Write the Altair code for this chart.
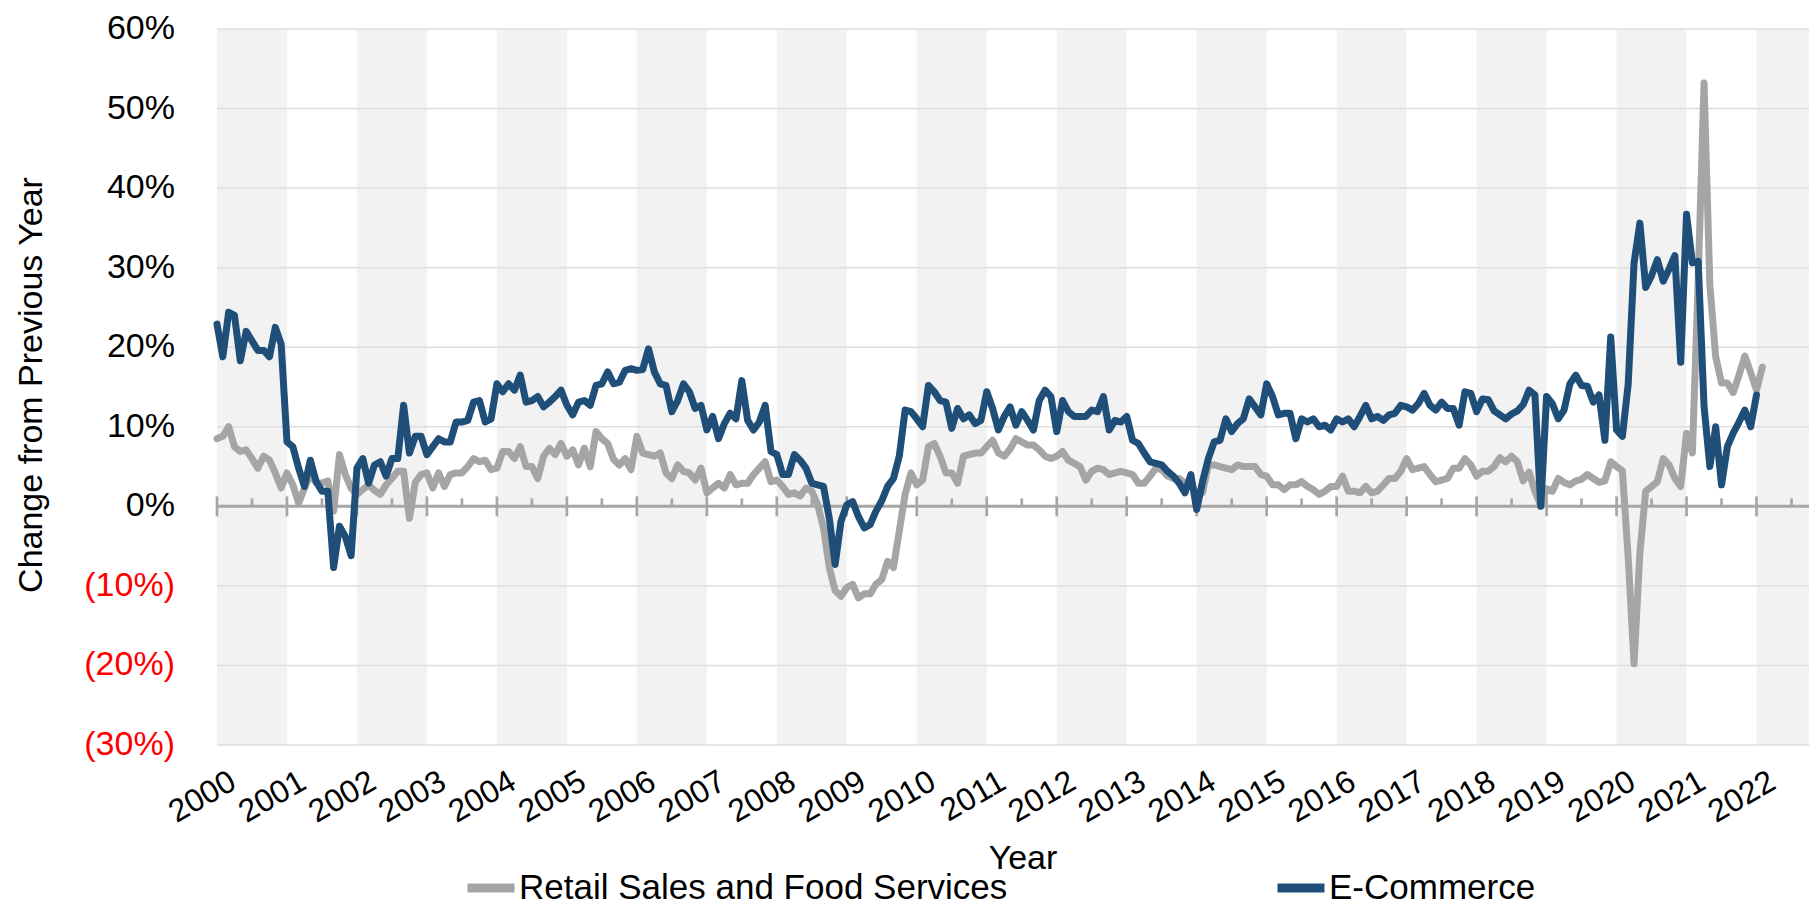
import altair as alt
import pandas as pd

# ---------------- data ----------------
SERIES = ["Retail Sales and Food Services", "E-Commerce"]
COLORS = ["#A5A5A5", "#1F4E79"]
X_TITLE = ["Year"]
Y_TITLE = ["Change from Previous Year"]

START_YEAR = 2000  # first month: Jan 2000, monthly values

RETAIL = [
    8.5, 8.8, 10.0, 7.5, 6.9, 7.1, 6.0, 4.8, 6.3, 5.8, 4.2, 2.3,            # 2000
    4.2, 2.7, 0.4, 2.3, 4.0, 3.0, 2.9, 3.2, -0.6, 6.5, 4.0, 2.3,            # 2001
    1.5, 2.1, 2.7, 2.0, 1.5, 2.7, 3.5, 4.4, 4.4, -1.5, 3.0, 4.0,            # 2002
    4.2, 2.3, 4.2, 2.5, 4.0, 4.2, 4.2, 5.0, 6.0, 5.6, 5.8, 4.6,             # 2003
    4.8, 6.9, 6.9, 6.0, 7.5, 5.0, 5.0, 3.5, 6.3, 7.3, 6.5, 7.9,             # 2004
    6.3, 7.1, 5.2, 7.3, 5.0, 9.4, 8.5, 7.9, 5.9, 5.2, 6.0, 4.6,             # 2005
    8.8, 6.7, 6.5, 6.3, 6.7, 4.2, 3.5, 5.2, 4.4, 4.2, 3.3, 4.8,             # 2006
    1.7, 2.3, 2.9, 2.3, 4.0, 2.7, 2.9, 2.9, 4.0, 4.8, 5.6, 3.1,             # 2007
    3.3, 2.5, 1.5, 1.7, 1.3, 2.3, 1.9, 0.2, -2.7, -7.7, -10.6, -11.3,       # 2008
    -10.2, -9.8, -11.5, -11.0, -11.0, -9.8, -9.2, -6.9, -7.7, -3.1, 1.5, 4.2,  # 2009
    2.7, 3.3, 7.5, 7.9, 6.3, 4.2, 4.2, 2.9, 6.3, 6.5, 6.7, 6.7,             # 2010
    7.5, 8.3, 6.7, 6.3, 7.2, 8.5, 8.1, 7.7, 7.7, 7.1, 6.3, 6.0,             # 2011
    6.3, 6.9, 5.8, 5.4, 5.0, 3.3, 4.4, 4.8, 4.6, 4.0, 4.2, 4.4,             # 2012
    4.2, 4.0, 2.9, 2.9, 3.8, 4.8, 4.6, 3.8, 3.5, 3.5, 2.9, 2.9,             # 2013
    1.5, 1.7, 5.2, 5.2, 5.0, 4.8, 4.6, 5.2, 5.0, 5.0, 5.0, 4.0,             # 2014
    3.8, 2.7, 2.7, 2.1, 2.7, 2.7, 3.1, 2.5, 2.1, 1.5, 1.9, 2.5,             # 2015
    2.5, 3.8, 1.9, 1.9, 1.7, 2.5, 1.7, 1.9, 2.7, 3.5, 3.5, 4.4,             # 2016
    6.0, 4.6, 4.8, 5.0, 4.0, 3.1, 3.3, 3.5, 4.8, 4.8, 6.0, 5.2,             # 2017
    3.8, 4.4, 4.4, 5.0, 6.1, 5.6, 6.3, 5.6, 3.2, 4.3, 1.9, 0.1,             # 2018
    2.2, 1.9, 3.5, 3.0, 2.7, 3.2, 3.4, 4.0, 3.5, 3.0, 3.2, 5.6,             # 2019
    5.0, 4.5, -6.5, -19.8, -5.8, 1.9, 2.5, 3.1, 6.0, 5.2, 3.5, 2.5,         # 2020
    9.2, 6.7, 28.5, 53.2, 27.8, 18.8, 15.5, 15.5, 14.3, 16.5, 18.9, 16.8,   # 2021
    14.6, 17.5,                                                             # 2022
]

ECOMMERCE = [
    22.9, 18.8, 24.4, 24.0, 18.3, 22.0, 20.8, 19.6, 19.6, 18.8, 22.5, 20.4,   # 2000
    8.1, 7.5, 4.8, 2.5, 5.8, 3.1, 1.9, 1.9, -7.7, -2.5, -3.8, -6.2,           # 2001
    4.8, 6.0, 2.9, 5.2, 5.6, 3.8, 6.0, 6.0, 12.7, 6.7, 8.8, 8.8,              # 2002
    6.5, 7.5, 8.5, 8.1, 8.1, 10.6, 10.6, 10.8, 13.1, 13.3, 10.6, 11.0,        # 2003
    15.4, 14.4, 15.4, 14.6, 16.5, 13.1, 13.3, 13.8, 12.5, 13.1, 13.8, 14.6,   # 2004
    12.7, 11.5, 13.1, 13.3, 12.7, 15.2, 15.4, 16.9, 15.4, 15.6, 17.1, 17.3,   # 2005
    17.1, 17.2, 19.8, 16.9, 15.4, 15.2, 11.9, 13.3, 15.4, 14.4, 12.3, 12.7,   # 2006
    9.6, 11.3, 8.5, 10.4, 11.7, 11.0, 15.8, 10.8, 9.6, 10.6, 12.7, 6.9,       # 2007
    6.5, 4.0, 4.0, 6.5, 5.8, 4.8, 2.9, 2.7, 2.5, -1.5, -7.3, -1.9,            # 2008
    0.2, 0.6, -1.3, -2.7, -2.3, -0.6, 0.7, 2.5, 3.5, 6.3, 12.1, 11.9,         # 2009
    11.0, 10.0, 15.2, 14.4, 13.3, 13.1, 9.8, 12.3, 11.0, 11.5, 10.4, 10.8,    # 2010
    14.4, 12.3, 9.6, 11.3, 12.5, 10.2, 11.9, 10.8, 9.6, 13.3, 14.6, 13.8,     # 2011
    9.4, 13.3, 11.9, 11.3, 11.3, 11.3, 12.1, 11.9, 13.8, 9.6, 10.8, 10.6,     # 2012
    11.3, 8.3, 7.9, 6.7, 5.6, 5.4, 5.2, 4.4, 3.8, 2.9, 1.7, 4.0,              # 2013
    -0.4, 3.1, 6.0, 8.1, 8.3, 11.0, 9.4, 10.4, 11.0, 13.5, 12.5, 11.5,        # 2014
    15.4, 13.8, 11.5, 11.7, 11.7, 8.5, 11.0, 10.6, 11.0, 10.0, 10.2, 9.6,     # 2015
    11.0, 10.6, 11.0, 10.0, 11.3, 12.7, 11.0, 11.3, 10.8, 11.5, 11.7, 12.7,   # 2016
    12.5, 12.1, 12.9, 14.2, 12.7, 12.1, 13.1, 12.3, 12.3, 10.2, 14.4, 14.2,   # 2017
    11.9, 13.5, 13.4, 12.0, 11.5, 11.0, 11.6, 12.0, 12.8, 14.6, 14.0, 0.0,    # 2018
    13.8, 12.9, 11.0, 12.1, 15.4, 16.5, 15.2, 15.1, 13.1, 14.0, 8.3, 21.3,    # 2019
    9.6, 8.8, 15.4, 30.6, 35.6, 27.5, 29.0, 31.0, 28.3, 29.8, 31.5, 18.1,     # 2020
    36.7, 30.6, 30.8, 12.6, 5.0, 10.0, 2.7, 7.5, 9.2, 10.6, 12.1, 10.0,       # 2021
    14.0,                                                                     # 2022
]

YEAR_TICKS = list(range(2000, 2023))
HALF_YEAR_TICKS = [y + 0.5 for y in range(2000, 2023)]
BAND_STARTS = list(range(2000, 2023, 2))
Y_TICKS = list(range(-30, 61, 10))
ZERO = [0]

# ---------------- tables ----------------
rows = []
for name, vals in zip(SERIES, [RETAIL, ECOMMERCE]):
    for i, v in enumerate(vals):
        rows.append({"t": START_YEAR + i / 12.0, "v": v, "series": name})
df = pd.DataFrame(rows)

bands = pd.DataFrame({"start": BAND_STARTS})
years = pd.DataFrame({"yr": YEAR_TICKS})
halves = pd.DataFrame({"yr": HALF_YEAR_TICKS})
grid = pd.DataFrame({"g": Y_TICKS})
zero = pd.DataFrame({"z": ZERO})
xtitle = pd.DataFrame({"label": X_TITLE})
ytitle = pd.DataFrame({"label": Y_TITLE})

FONT = "Liberation Sans"
PLOT_W, PLOT_H = 1592, 716
XS = alt.Scale(domain=[2000, 2022.75], nice=False, zero=False)
YS = alt.Scale(domain=[-30, 60], nice=False, zero=False)
CS = alt.Scale(domain=SERIES, range=COLORS)
AXIS_GRAY = "#A9A5A5"

band_layer = alt.Chart(bands).transform_calculate(
    end="datum.start + 1"
).mark_rect(color="#F2F2F2").encode(
    x=alt.X("start:Q", scale=XS, axis=None),
    x2="end:Q",
)

grid_layer = alt.Chart(grid).mark_rule(color="#DEDEDE", strokeWidth=1.5).encode(
    y=alt.Y("g:Q", scale=YS, axis=None),
)

zero_layer = alt.Chart(zero).mark_rule(color=AXIS_GRAY, strokeWidth=3).encode(
    y=alt.Y("z:Q", scale=YS, axis=None),
)

major_ticks = alt.Chart(years).transform_calculate(
    lo="-1.25", hi="1.25"
).mark_rule(color=AXIS_GRAY, strokeWidth=2.7).encode(
    x=alt.X("yr:Q", scale=XS, axis=None),
    y=alt.Y("hi:Q", scale=YS, axis=None),
    y2="lo:Q",
)

minor_ticks = alt.Chart(halves).transform_calculate(
    lo="0", hi="1"
).mark_rule(color=AXIS_GRAY, strokeWidth=2.7).encode(
    x=alt.X("yr:Q", scale=XS, axis=None),
    y=alt.Y("hi:Q", scale=YS, axis=None),
    y2="lo:Q",
)

# y tick labels: 60% ... 0%, (10%) ... (30%) in red
y_labels = alt.Chart(grid).transform_calculate(
    label="datum.g < 0 ? '(' + abs(datum.g) + '%)' : datum.g + '%'"
).mark_text(align="right", baseline="middle", fontSize=34, font=FONT).encode(
    y=alt.Y("g:Q", scale=YS, axis=None),
    x=alt.value(-42),
    text="label:N",
    color=alt.condition("datum.g < 0", alt.value("#FF0000"), alt.value("#000000")),
)

# x tick labels (rotated years)
x_labels = alt.Chart(years).mark_text(
    align="right", baseline="top", angle=330, fontSize=32, font=FONT, dx=10, color="#000000"
).encode(
    x=alt.X("yr:Q", scale=XS, axis=None),
    y=alt.value(PLOT_H + 26),
    text=alt.Text("yr:Q", format="d"),
)

x_title = alt.Chart(xtitle).mark_text(
    align="center", baseline="alphabetic", fontSize=34, font=FONT, color="#000000"
).encode(
    x=alt.value(806),
    y=alt.value(PLOT_H + 124),
    text="label:N",
)

y_title = alt.Chart(ytitle).mark_text(
    align="center", baseline="middle", angle=270, fontSize=34, font=FONT, color="#000000"
).encode(
    x=alt.value(-185),
    y=alt.value(PLOT_H / 2 - 2),
    text="label:N",
)

legend = alt.Legend(
    title=None, orient="none", legendX=246, legendY=831, direction="horizontal",
    symbolType="stroke", symbolSize=2209, symbolStrokeWidth=9,
    labelFontSize=35, labelLimit=1000, labelOffset=0, labelColor="black",
    columnPadding=251,
)


def line_layer(name):
    return alt.Chart(df).transform_filter(
        alt.datum.series == name
    ).mark_line(strokeWidth=7, strokeCap="round", strokeJoin="round").encode(
        x=alt.X("t:Q", scale=XS, axis=None),
        y=alt.Y("v:Q", scale=YS, axis=None),
        color=alt.Color("series:N", scale=CS, legend=legend),
    )


chart = alt.layer(
    band_layer, grid_layer, zero_layer, major_ticks, minor_ticks,
    line_layer(SERIES[0]), line_layer(SERIES[1]),
    y_labels, x_labels, x_title, y_title,
).properties(
    width=PLOT_W, height=PLOT_H,
    padding={"left": 209, "top": 21, "right": 0, "bottom": 160},
    autosize=alt.AutoSizeParams(type="none"),
).configure(
    font=FONT, background="white",
).configure_view(stroke=None)

chart.save("out.html", embed_options={"renderer": "svg", "actions": False})
